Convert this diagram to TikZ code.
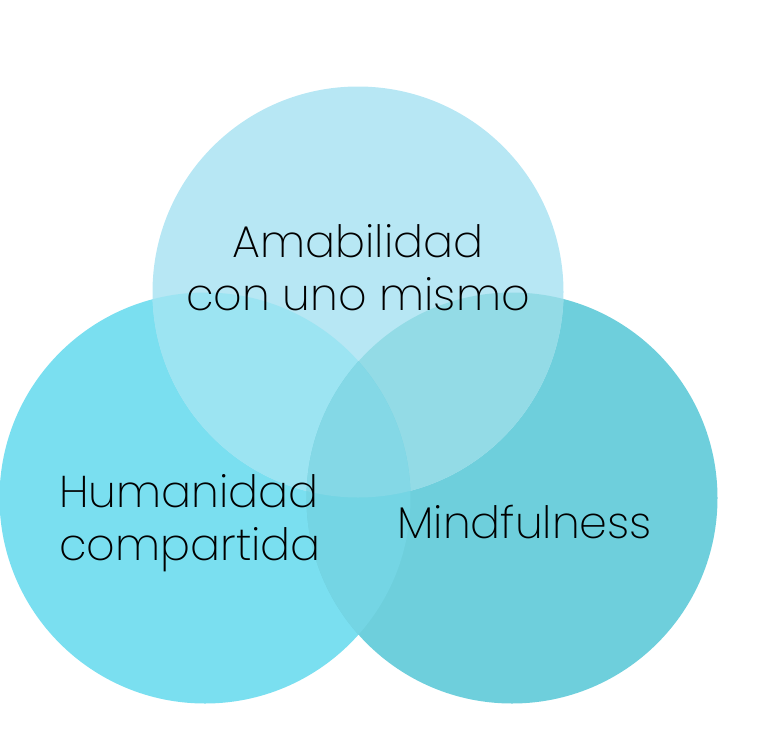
\documentclass[tikz,border=0pt]{standalone}
\usepackage{fontspec}
\IfFontExistsTF{Poppins ExtraLight}{\setmainfont{Poppins ExtraLight}}{\setmainfont{Poppins Light}}
\usepackage{tikz}
\usetikzlibrary{positioning,calc}
\usepackage{xcolor}
\definecolor{humanblue}{HTML}{7ADFF0}
\definecolor{mindteal}{HTML}{6ECFDC}
\definecolor{kindblue}{HTML}{B7E7F4}
\definecolor{kindhuman}{HTML}{9CE4F2}
\definecolor{kindmind}{HTML}{93DBE6}
\definecolor{humanmind}{HTML}{74D5E4}
\definecolor{allthree}{HTML}{84D8E6}
\tikzset{venn/.style={circle,minimum size=411pt,inner sep=0pt},label/.style={font=\fontsize{44.5}{53}\selectfont,text=black,inner sep=0pt}}
\newcommand{\rad}{205.5}

\begin{document}
\begin{tikzpicture}[x=1pt,y=-1pt]
  \useasboundingbox (0,0) rectangle (768,750);
  % circles
  \node[venn,fill=humanblue] (human) at (205,498) {};
  \node[venn,fill=mindteal] (mind) at (512,498) {};
  \node[venn,fill=kindblue] (kind) at (358,292) {};
  % overlaps
  \begin{scope}
    \clip (kind.center) circle (\rad);
    \fill[kindhuman] (human.center) circle (\rad);
    \fill[kindmind] (mind.center) circle (\rad);
  \end{scope}
  \begin{scope}
    \clip (human.center) circle (\rad);
    \fill[humanmind] (mind.center) circle (\rad);
    \clip (kind.center) circle (\rad);
    \fill[allthree] (mind.center) circle (\rad);
  \end{scope}
  % labels
  \node[label,align=center,anchor=base] (kindtext) at (358,310) {Amabilidad\\con uno mismo};
  \node[label,align=left,anchor=base west] (humantext) at (59,560) {Humanidad\\compartida};
  \node[label,anchor=base west] (mindtext) at (397,538) {Mindfulness};
\end{tikzpicture}
\end{document}
